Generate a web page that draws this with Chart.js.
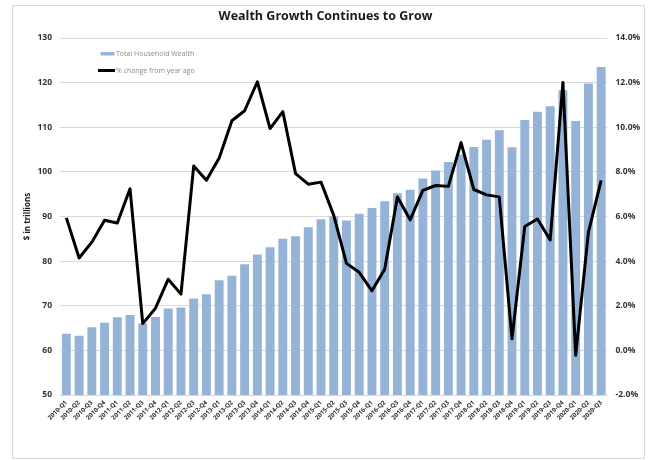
<!DOCTYPE html>
<html>
<head>
<meta charset="utf-8">
<script src="https://cdn.jsdelivr.net/npm/chart.js@4/dist/chart.umd.min.js"></script>
<style>
html,body{margin:0;padding:0;background:#fff;}
#wrap{width:651px;height:460px;position:relative;}
</style>
</head>
<body>
<div id="wrap"><canvas id="c" width="651" height="460"></canvas></div>
<script>
const categories = [
 "2010-Q1","2010-Q2","2010-Q3","2010-Q4",
 "2011-Q1","2011-Q2","2011-Q3","2011-Q4",
 "2012-Q1","2012-Q2","2012-Q3","2012-Q4",
 "2013-Q1","2013-Q2","2013-Q3","2013-Q4",
 "2014-Q1","2014-Q2","2014-Q3","2014-Q4",
 "2015-Q1","2015-Q2","2015-Q3","2015-Q4",
 "2016-Q1","2016-Q2","2016-Q3","2016-Q4",
 "2017-Q1","2017-Q2","2017-Q3","2017-Q4",
 "2018-Q1","2018-Q2","2018-Q3","2018-Q4",
 "2019-Q1","2019-Q2","2019-Q3","2019-Q4",
 "2020-Q1","2020-Q2","2020-Q3"
];
const wealth = [
 63.7,63.3,65.2,66.2,
 67.4,67.9,66.0,67.5,
 69.4,69.6,71.6,72.6,
 75.7,76.7,79.3,81.5,
 83.1,85.0,85.6,87.6,
 89.4,90.0,89.1,90.6,
 91.9,93.4,95.2,96.0,
 98.5,100.3,102.2,103.9,
 105.6,107.2,109.3,105.5,
 111.6,113.5,114.7,118.3,
 111.4,119.8,123.5
];
const pctChange = [
 5.94,4.14,4.85,5.83,
 5.71,7.24,1.20,1.89,
 3.19,2.52,8.26,7.62,
 8.62,10.29,10.74,12.04,
 9.94,10.70,7.92,7.45,
 7.54,6.05,3.90,3.50,
 2.67,3.64,6.87,5.85,
 7.17,7.39,7.35,9.31,
 7.21,6.97,6.88,0.52,
 5.55,5.89,4.95,12.01,
 -0.22,5.29,7.62
];
const leftTicks = {min:50, max:130, step:10};
const rightTicks = {min:-2, max:14, step:2};

const FONT = "'Open Sans', 'Liberation Sans', sans-serif";
const BAR_COLOR = '#95b3d7';

const frameAndLegend = {
  id:'frameAndLegend',
  beforeDraw(chart){
    const ctx = chart.ctx;
    ctx.save();
    ctx.fillStyle = '#fff';
    ctx.fillRect(0,0,chart.width,chart.height);
    ctx.strokeStyle = '#d9d9d9';
    ctx.lineWidth = 1;
    ctx.strokeRect(12.5,5.5,632,453);
    ctx.restore();
  },
  afterDraw(chart){
    const ctx = chart.ctx;
    ctx.save();
    const ds = chart.data.datasets;
    ctx.font = "7px " + FONT;
    ctx.textBaseline = 'middle';
    ctx.fillStyle = BAR_COLOR;
    ctx.fillRect(100.5, 52, 14, 3.5);
    ctx.fillStyle = '#8a8a8a';
    ctx.fillText(ds[1].label, 116, 53.5);
    ctx.strokeStyle = '#000';
    ctx.lineWidth = 3;
    ctx.beginPath();
    ctx.moveTo(98, 70.5);
    ctx.lineTo(115, 70.5);
    ctx.stroke();
    ctx.fillText(ds[0].label, 116, 70.5);
    ctx.restore();
  }
};

new Chart(document.getElementById('c'), {
  data: {
    labels: categories,
    datasets: [
      {
        type:'line',
        label:'% change from year ago',
        data:pctChange,
        yAxisID:'y1',
        borderColor:'#000',
        borderWidth:3,
        pointRadius:0,
        tension:0,
        borderJoinStyle:'round',
        order:0
      },
      {
        type:'bar',
        label:'Total Household Wealth',
        data:wealth,
        yAxisID:'y',
        backgroundColor:BAR_COLOR,
        categoryPercentage:1.0,
        barPercentage:0.7,
        order:1
      }
    ]
  },
  options: {
    responsive:false,
    animation:false,
    layout:{padding:{left:0,right:0,top:0,bottom:0}},
    plugins:{
      legend:{display:false},
      tooltip:{enabled:false},
      title:{
        display:true,
        text:'Wealth Growth Continues to Grow',
        color:'#1a1a1a',
        font:{family:FONT, size:12.5, weight:'bold'},
        padding:{top:9, bottom:14}
      }
    },
    scales:{
      x:{
        grid:{display:false, drawTicks:false},
        border:{display:true, color:'#d9d9d9'},
        ticks:{
          autoSkip:false,
          minRotation:45,
          maxRotation:45,
          padding:4,
          color:'#333',
          font:{family:FONT, size:6.2, weight:'bold'}
        },
        afterFit(s){ s.height = 65; }
      },
      y:{
        position:'left',
        min:leftTicks.min,
        max:leftTicks.max,
        grid:{color:'#d9d9d9', drawTicks:false},
        border:{display:false},
        ticks:{
          stepSize:leftTicks.step,
          padding:8,
          color:'#333',
          font:{family:FONT, size:8.5, weight:'bold'}
        },
        title:{
          display:true,
          text:'$ in trillions',
          color:'#1a1a1a',
          font:{family:FONT, size:8, weight:'bold'},
          padding:{top:23,bottom:0}
        },
        afterFit(s){ s.width = 60; }
      },
      y1:{
        position:'right',
        min:rightTicks.min,
        max:rightTicks.max,
        grid:{display:false, drawTicks:false},
        border:{display:false},
        ticks:{
          stepSize:rightTicks.step,
          padding:8,
          color:'#333',
          font:{family:FONT, size:8.5, weight:'bold'},
          callback:(v)=>v.toFixed(1)+'%'
        },
        afterFit(s){ s.width = 43.5; }
      }
    }
  },
  plugins:[frameAndLegend]
});
</script>
</body>
</html>
